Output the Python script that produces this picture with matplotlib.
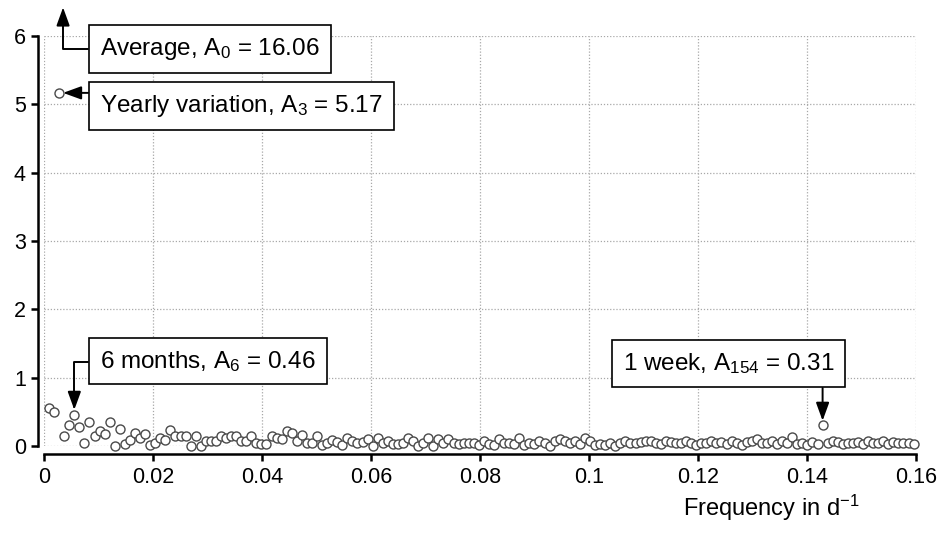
import numpy as np
import matplotlib
matplotlib.use('Agg')
import matplotlib.pyplot as plt
from matplotlib.ticker import FuncFormatter

plt.rcParams['font.family'] = ['Liberation Sans', 'DejaVu Sans']
plt.rcParams['mathtext.fontset'] = 'custom'
plt.rcParams['mathtext.rm'] = 'Liberation Sans'
plt.rcParams['mathtext.it'] = 'Liberation Sans:italic'
plt.rcParams['mathtext.bf'] = 'Liberation Sans:bold'

# record length in days, harmonic k sits at k / n_days
n_days = 1078
harmonic = np.arange(1, 173)
amplitude = [
    0.55, 0.50, 5.17, 0.14, 0.31, 0.46, 0.28, 0.05, 0.35, 0.14,
    0.22, 0.18, 0.35, 0.00, 0.25, 0.03, 0.09, 0.19, 0.12, 0.17,
    0.02, 0.05, 0.12, 0.09, 0.23, 0.14, 0.15, 0.15, 0.00, 0.15,
    0.00, 0.07, 0.07, 0.07, 0.15, 0.12, 0.15, 0.15, 0.07, 0.07,
    0.15, 0.04, 0.03, 0.03, 0.15, 0.12, 0.10, 0.22, 0.19, 0.07,
    0.16, 0.05, 0.05, 0.15, 0.02, 0.05, 0.09, 0.06, 0.02, 0.12,
    0.07, 0.05, 0.06, 0.11, 0.00, 0.12, 0.04, 0.07, 0.03, 0.03,
    0.04, 0.12, 0.07, 0.00, 0.05, 0.12, 0.00, 0.10, 0.04, 0.10,
    0.05, 0.03, 0.05, 0.05, 0.04, 0.01, 0.07, 0.03, 0.01, 0.10,
    0.05, 0.04, 0.03, 0.12, 0.02, 0.05, 0.03, 0.07, 0.04, 0.00,
    0.07, 0.10, 0.07, 0.05, 0.07, 0.03, 0.12, 0.07, 0.02, 0.03,
    0.02, 0.05, 0.00, 0.05, 0.07, 0.04, 0.05, 0.06, 0.07, 0.07,
    0.05, 0.03, 0.07, 0.06, 0.05, 0.05, 0.07, 0.04, 0.02, 0.05,
    0.05, 0.07, 0.05, 0.06, 0.03, 0.07, 0.05, 0.02, 0.06, 0.07,
    0.10, 0.05, 0.04, 0.07, 0.03, 0.08, 0.04, 0.13, 0.03, 0.05,
    0.02, 0.06, 0.03, 0.31, 0.05, 0.07, 0.06, 0.03, 0.05, 0.04,
    0.06, 0.03, 0.07, 0.05, 0.04, 0.07, 0.03, 0.06, 0.05, 0.04,
    0.05, 0.03,
]
freq = harmonic / n_days
amp = np.array(amplitude)

x_ticks = [0, 0.02, 0.04, 0.06, 0.08, 0.1, 0.12, 0.14, 0.16]
y_ticks = [0, 1, 2, 3, 4, 5, 6]

fig = plt.figure(figsize=(9.4, 5.4), dpi=100)
ax = fig.add_axes([0.0468, 0.174, 0.9277, 0.759])

ax.plot(freq, amp, 'o', ms=6.5, mfc='white', mec='#4a4a4a', mew=1.0,
        clip_on=False, zorder=3)

ax.set_xlim(0, 0.16)
ax.set_ylim(0, 6)
ax.set_xticks(x_ticks)
ax.set_yticks(y_ticks)
ax.xaxis.set_major_formatter(FuncFormatter(lambda v, p: '%g' % v))
ax.grid(True, ls=(0, (1, 1.5)), color='#a8a8a8', lw=0.9)
ax.set_axisbelow(True)

for s in ['top', 'right']:
    ax.spines[s].set_visible(False)
ax.spines['left'].set_position(('outward', 4))
ax.spines['bottom'].set_position(('outward', 6))
for s in ['left', 'bottom']:
    ax.spines[s].set_linewidth(1.8)
ax.tick_params(width=1.8, length=5, labelsize=15.5, pad=4)

ax.set_xlabel('Frequency in d$^{-1}$', fontsize=17)
ax.xaxis.set_label_coords(0.834, -0.115)

box = dict(boxstyle='square,pad=0.45', fc='white', ec='black', lw=1.2)
arrow = dict(arrowstyle='-|>,head_length=0.55,head_width=0.2', color='black',
             lw=1.4, shrinkA=0, shrinkB=0, mutation_scale=20)

# average A0 lies off the chart: arrow leaves the top
ax.text(0.01028, 5.81, 'Average, A$_0$ = 16.06', fontsize=17.5, va='center',
        bbox=box, zorder=5)
ax.annotate('', xy=(0.0035, 6.42), xytext=(0.0081, 5.81), annotation_clip=False,
            arrowprops=dict(arrow, connectionstyle='angle,angleA=0,angleB=90,rad=0'))

ax.text(0.01028, 4.98, 'Yearly variation, A$_3$ = 5.17', fontsize=17.5,
        va='center', bbox=box, zorder=5)
ax.annotate('', xy=(0.0035, 5.17), xytext=(0.0081, 5.17),
            arrowprops=dict(arrow, connectionstyle='arc3'))

ax.text(0.01028, 1.244, '6 months, A$_6$ = 0.46', fontsize=17.5, va='center',
        bbox=box, zorder=5)
ax.annotate('', xy=(6 / n_days, 0.53), xytext=(0.0081, 1.23),
            arrowprops=dict(arrow, connectionstyle='angle,angleA=0,angleB=90,rad=0'))

ax.text(0.1062, 1.207, '1 week, A$_{154}$ = 0.31', fontsize=17.5, va='center',
        bbox=box, zorder=5)
ax.annotate('', xy=(154 / n_days, 0.37), xytext=(154 / n_days, 0.85),
            arrowprops=dict(arrow, connectionstyle='arc3'))

fig.savefig('out.png', dpi=100)
